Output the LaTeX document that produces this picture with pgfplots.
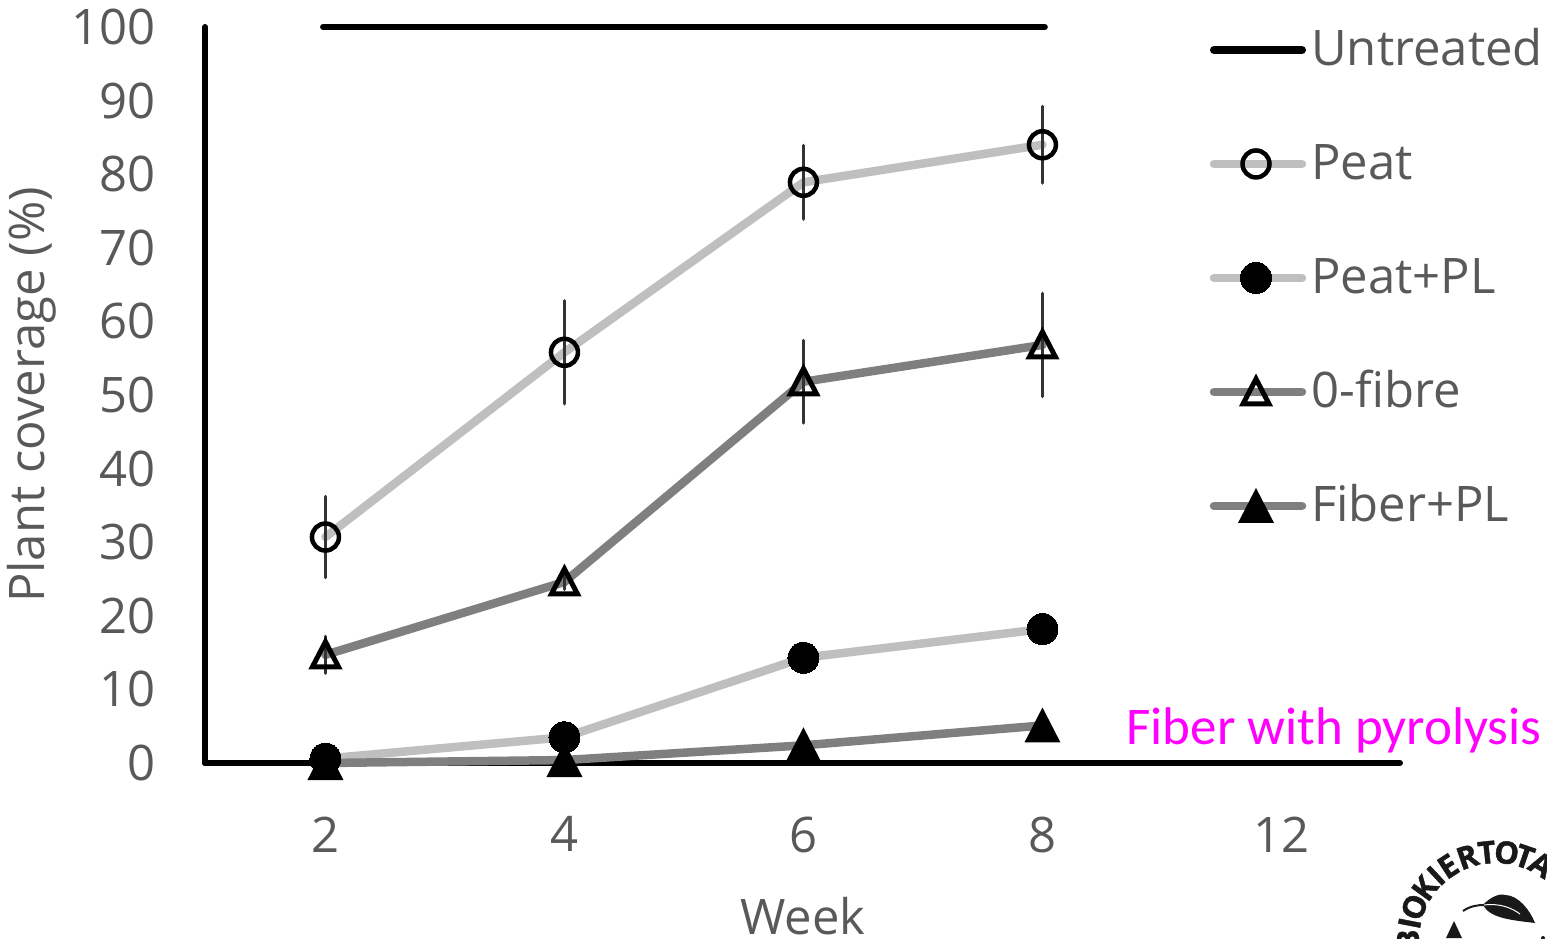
\documentclass[border=0pt]{standalone}
\usepackage{pgfplots}
\pgfplotsset{compat=1.18}
\usepackage{fontspec}
\setmainfont{Open Sans}
\newfontfamily\carlito{Carlito}
\newfontfamily\logof{Open Sans}[BoldFeatures={FakeBold=1.5}]
\definecolor{txt}{HTML}{595959}
\definecolor{lgt}{HTML}{BFBFBF}
\definecolor{drk}{HTML}{7F7F7F}
\pgfdeclareplotmark{otri}{%
  \pgfpathmoveto{\pgfqpoint{-13pt}{-12pt}}%
  \pgfpathlineto{\pgfqpoint{13pt}{-12pt}}%
  \pgfpathlineto{\pgfqpoint{0pt}{13pt}}%
  \pgfpathclose\pgfusepathqstroke}
\pgfdeclareplotmark{ftri}{%
  \pgfpathmoveto{\pgfqpoint{-18pt}{-17pt}}%
  \pgfpathlineto{\pgfqpoint{18pt}{-17pt}}%
  \pgfpathlineto{\pgfqpoint{0pt}{18pt}}%
  \pgfpathclose\pgfusepathqfill}
\pgfplotsset{
  wide legend/.style={legend image code/.code={%
    \draw[yshift=3pt,mark repeat=2,mark phase=2,##1] plot coordinates {(0pt,0pt)(42pt,0pt)(88pt,0pt)};}},
  ebar/.style={error bars/.cd, y dir=both, y explicit,
    error bar style={line width=3.5pt,color=black!80}, error mark=none},
}
\begin{document}
\begin{tikzpicture}
\useasboundingbox (-205pt,-175pt) rectangle (1342pt,763pt);
\begin{axis}[
  at={(0pt,0pt)}, anchor=south west,
  scale only axis, width=1195pt, height=736pt,
  xmin=-0.504, xmax=4.496, ymin=0, ymax=100,
  clip=false,
  axis x line=bottom, axis y line=left,
  axis line style={-, line width=6pt, black, line cap=round, line join=round},
  xtick={0,1,2,3,4}, xticklabels={2,4,6,8,12},
  ytick={0,10,...,100},
  major tick length=0pt,
  tick label style={font=\fontsize{49}{52}\selectfont, text=txt},
  /pgf/number format/assume math mode=true,
  x tick label style={yshift=-50pt},
  y tick label style={xshift=-46pt},
  xlabel={Week}, ylabel={Plant coverage (\%)},
  label style={font=\fontsize{49}{52}\selectfont, text=txt},
  x label style={at={(axis description cs:0.5004,-0.208)}, anchor=center},
  y label style={at={(axis description cs:-0.145,0.5)}, anchor=center},
  wide legend,
  legend cell align=left,
  legend style={at={(axis cs:3.7,99.6)}, anchor=north west, draw=none, fill=none,
    font=\fontsize{49}{52}\selectfont, text=txt, inner sep=0pt, outer sep=0pt,
    row sep=68pt, column sep=5pt,
    nodes={inner sep=0pt, outer sep=0pt, text depth=10pt, text height=36pt, xshift=6pt}},
]
\addplot[black, line width=6pt, line cap=round, mark=none, legend image post style={line width=8pt}] coordinates {(-0.01,100)(3.01,100)};
\addlegendentry{Untreated}
\addplot[lgt, line width=8.5pt, line cap=round, mark=o,
  mark size=13.5pt, mark options={black, line width=4.5pt, fill=none}, ebar]
  coordinates {(0,30.7)+-(0,5.5) (1,55.8)+-(0,7) (2,78.9)+-(0,5) (3,84)+-(0,5.2)};
\addlegendentry{Peat}
\addplot[lgt, line width=8.5pt, line cap=round, mark=*,
  mark size=15.5pt, mark options={black, line width=0pt, fill=black}]
  coordinates {(0,0.6) (1,3.5) (2,14.3) (3,18.2)};
\addlegendentry{Peat+PL}
\addplot[drk, line width=8.5pt, line cap=round, mark=otri,
  mark options={black, line width=5pt}, ebar]
  coordinates {(0,14.7)+-(0,2.5) (1,24.6)+-(0,1) (2,51.8)+-(0,5.6) (3,56.8)+-(0,7)};
\addlegendentry{0-fibre}
\addplot[drk, line width=8.5pt, line cap=round, mark=ftri,
  mark options={black, fill=black, line width=0pt}]
  coordinates {(0,0) (1,0.4) (2,2.4) (3,5.1)};
\addlegendentry{Fiber+PL}
\node[anchor=center, text={rgb,255:red,255;green,0;blue,255}, font=\carlito\fontsize{53}{56}\selectfont, inner sep=0pt]
  at (axis cs:4.22,4.45) {Fiber with pyrolysis};
\end{axis}
\begin{scope}[shift={(-205pt,763pt)}, x=1pt, y=-1pt]
  \clip (1300,800) rectangle (1547,938);
  \foreach \ch/\ang in {B/-90,I/-79,O/-68,K/-54,I/-43,E/-33,R/-19,T/-6,O/7,T/19,A/31}{
    \node[rotate=-\ang, inner sep=0pt, text=black!90, font=\logof\fontsize{31}{31}\selectfont\bfseries]
      at ({1496+88*sin(\ang)},{940-88*cos(\ang)}) {\ch};
  }
  \fill[black!90] (1483,905) .. controls (1490,897) and (1500,893) .. (1505,895)
     .. controls (1518,895) and (1530,910) .. (1535,923)
     .. controls (1510,920) and (1490,918) .. (1483,905) -- cycle;
  \draw[white, line width=1pt] (1484,905) .. controls (1500,903) and (1512,908) .. (1520,914);
  \draw[black!90, line width=2pt] (1463,911) .. controls (1470,906) and (1478,905) .. (1484,905);
  \fill[black!90] (1454,921) -- (1446,938) -- (1462,938) -- cycle;
  \fill[black!90] (1543,938) circle (2);
\end{scope}
\end{tikzpicture}
\end{document}
